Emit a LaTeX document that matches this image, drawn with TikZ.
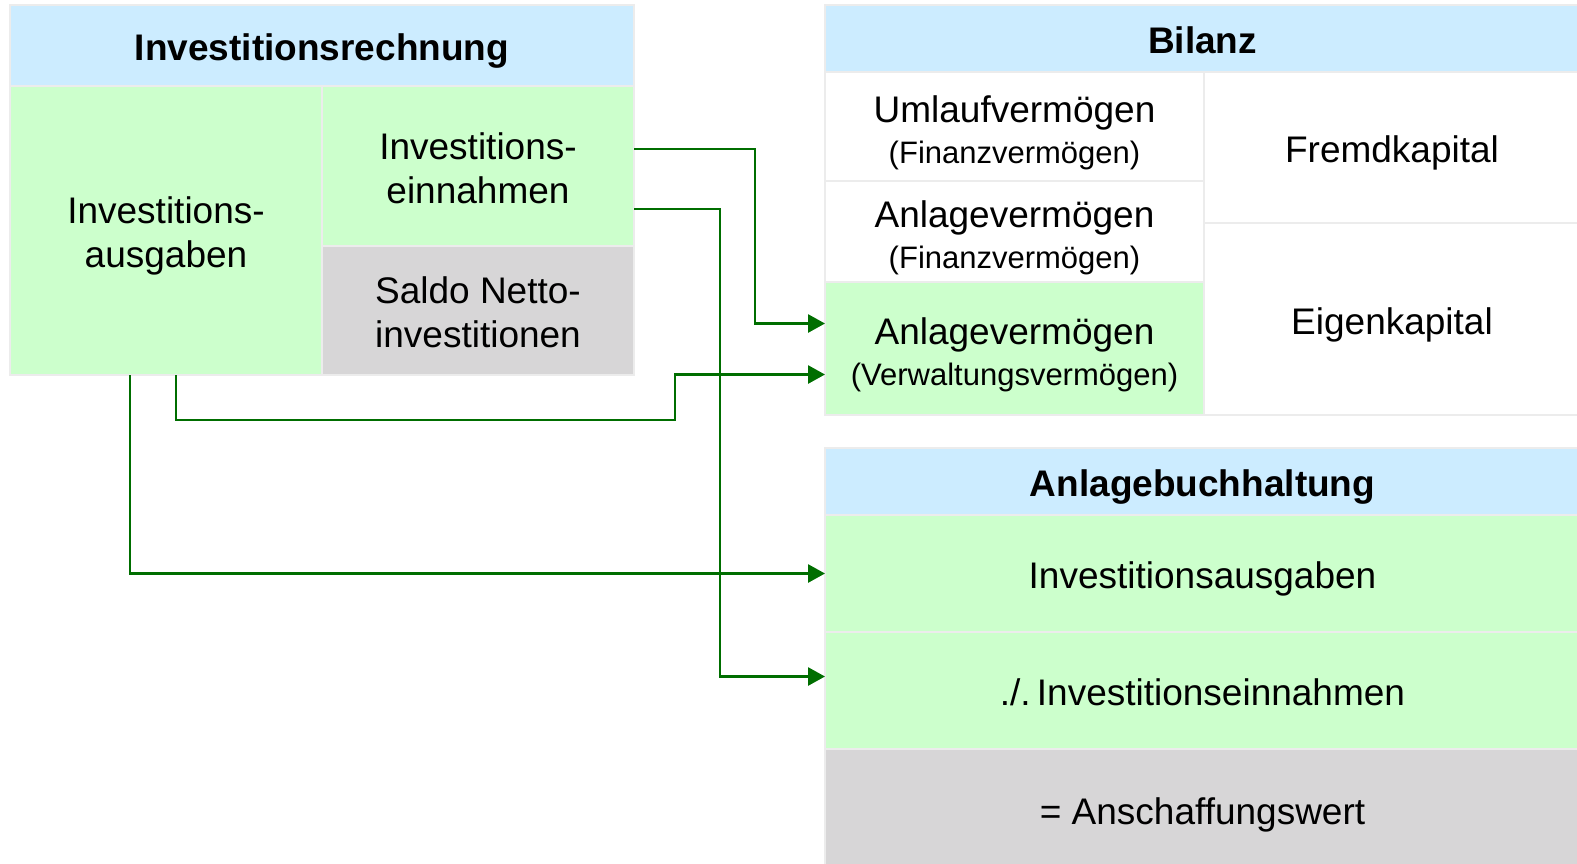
\documentclass[tikz,border=0pt]{standalone}
\usepackage{fontspec}
\setmainfont{Liberation Sans}
\usepackage{xcolor}
\usetikzlibrary{positioning,arrows.meta}

\definecolor{headblue}{RGB}{204,236,255}
\definecolor{cellgreen}{RGB}{204,255,204}
\definecolor{cellgray}{RGB}{215,214,215}
\definecolor{rulegray}{RGB}{236,236,236}
\definecolor{flowgreen}{RGB}{0,110,0}

\begin{document}
\begin{tikzpicture}[x=1pt,y=-1pt,>={Triangle[length=17pt,width=18pt]}]
\tikzstyle{cell} = [draw=rulegray,line width=2.5pt,inner sep=0pt,outer sep=0pt,anchor=north west,align=center,font=\fontsize{37}{44}\selectfont]
\tikzstyle{oneline} = [text height=30pt,text depth=0pt]
\tikzstyle{twoline} = [text height=74pt,text depth=0pt]
\tikzstyle{head} = [cell,oneline,fill=headblue,font=\fontsize{37}{44}\selectfont\bfseries]
\tikzstyle{plain} = [cell,fill=white]
\tikzstyle{ingreen} = [cell,fill=cellgreen]
\tikzstyle{ingray} = [cell,fill=cellgray]
\tikzstyle{flow} = [->,draw=flowgreen,line width=2.8pt]

\useasboundingbox (0,0) rectangle (1577,863);

% Investitionsrechnung
\node[head,minimum width=624,minimum height=81] (ir) at (10,5) {Investitionsrechnung};
\node[ingreen,twoline,minimum width=312,minimum height=289] (aus) at (ir.south west) {Investitions-\\ausgaben};
\node[ingreen,twoline,minimum width=312,minimum height=160] (einn) at (aus.north east) {Investitions-\\einnahmen};
\node[ingray,twoline,minimum width=312,minimum height=129] (saldo) at (einn.south west) {Saldo Netto-\\investitionen};

% Bilanz
\node[head,minimum width=755,minimum height=67] (bil) at (825,5) {Bilanz};
\node[plain,twoline,minimum width=379,minimum height=109] (uml) at (bil.south west) {Umlaufvermögen\\[-3pt]{\fontsize{31}{37}\selectfont (Finanzvermögen)}};
\node[plain,twoline,minimum width=379,minimum height=101] (anfin) at (uml.south west) {Anlagevermögen\\[-3pt]{\fontsize{31}{37}\selectfont (Finanzvermögen)}};
\node[ingreen,twoline,minimum width=379,minimum height=133] (verw) at (anfin.south west) {Anlagevermögen\\[-3pt]{\fontsize{31}{37}\selectfont (Verwaltungsvermögen)}};
\node[plain,oneline,minimum width=376,minimum height=151] (fremd) at (uml.north east) {Fremdkapital};
\node[plain,oneline,minimum width=376,minimum height=192] (eigen) at (fremd.south west) {Eigenkapital};

% Anlagebuchhaltung
\node[head,minimum width=755,minimum height=67] (ab) at (825,448) {Anlagebuchhaltung};
\node[ingreen,oneline,minimum width=755,minimum height=117] (abaus) at (ab.south west) {Investitionsausgaben};
\node[ingreen,oneline,minimum width=755,minimum height=117] (abeinn) at (abaus.south west) {./.\,Investitionseinnahmen};
\node[ingray,oneline,minimum width=755,minimum height=120] (ansch) at (abeinn.south west) {= Anschaffungswert};

% Verbindungen
\draw[flow] ([yshift=17pt]einn.east) -- ++(121,0) |- ([yshift=25pt]verw.west);
\draw[flow] ([yshift=-43pt]einn.east) -- ++(86,0) |- ([yshift=14pt]abeinn.west);
\draw[flow] ([xshift=10pt]aus.south) -- ++(0,45) -- ++(499,0) |- ([yshift=-26pt]verw.west);
\draw[flow] ([xshift=-36pt]aus.south) |- (abaus.west);
\end{tikzpicture}
\end{document}
